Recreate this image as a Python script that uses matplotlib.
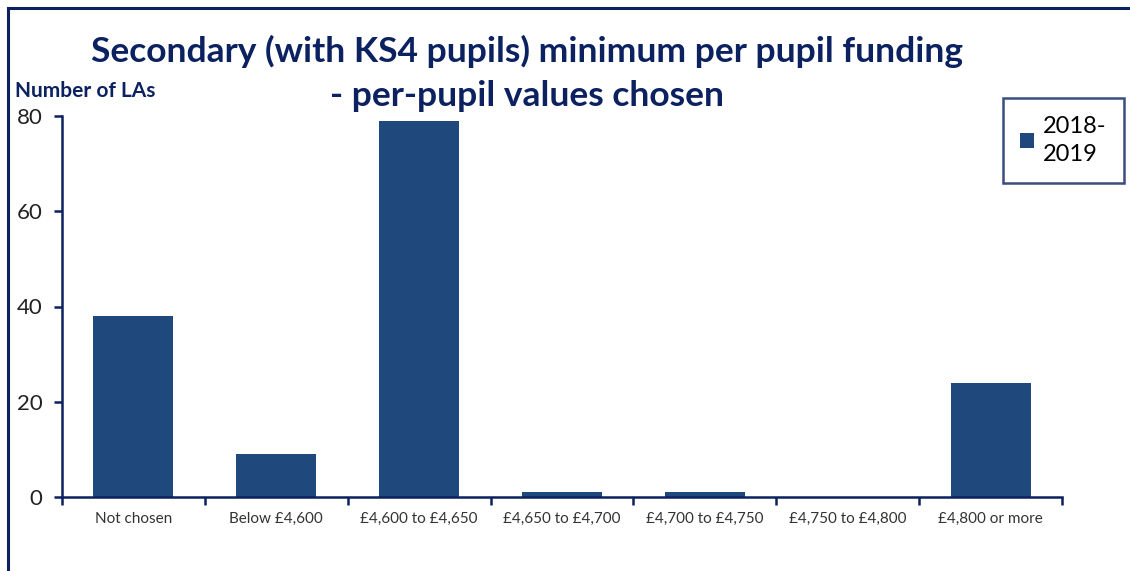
import matplotlib
matplotlib.use("Agg")
import matplotlib.pyplot as plt
from matplotlib.patches import Rectangle
import numpy as np

categories = ["Not chosen", "Below £4,600", "£4,600 to £4,650", "£4,650 to £4,700",
              "£4,700 to £4,750", "£4,750 to £4,800", "£4,800 or more"]
values_2018_2019 = [38, 9, 79, 1, 1, 0, 24]
yticks = [0, 20, 40, 60, 80]
series_label = "2018-\n2019"

navy = "#0b2160"
bar_color = "#1f497d"
font = "Lato"

fig = plt.figure(figsize=(11.3, 5.71), dpi=100)
ax = fig.add_axes([62/1130, 1-497/571, 1000/1130, 381/571])

x = np.arange(len(categories))
ax.bar(x, values_2018_2019, width=0.56, color=bar_color, label=series_label, zorder=2)

ax.set_xlim(-0.5, len(categories) - 0.5)
ax.set_ylim(0, 80)
ax.set_yticks(yticks)
ax.set_yticklabels([str(v) for v in yticks], fontsize=16, family=font, color="#222222")
ax.set_xticks(x)
ax.set_xticklabels(categories, fontsize=11, family=font, color="#333333")
ax.tick_params(axis="x", length=0, pad=11)
ax.set_xticks(np.arange(-0.5, len(categories)), minor=True)
ax.tick_params(axis="x", which="minor", length=6, width=1.8, color=navy, direction="out")
ax.tick_params(axis="y", length=6, width=1.8, color=navy, direction="out", pad=8)

for s in ["top", "right"]:
    ax.spines[s].set_visible(False)
for s in ["left", "bottom"]:
    ax.spines[s].set_color(navy)
    ax.spines[s].set_linewidth(1.8)

fig.text(527/1130, 1-51/571, "Secondary (with KS4 pupils) minimum per pupil funding",
         ha="center", va="center", fontsize=25.5, fontweight="bold", color=navy, family=font)
fig.text(527/1130, 1-96/571, "- per-pupil values chosen",
         ha="center", va="center", fontsize=25.5, fontweight="bold", color=navy, family=font)
fig.text(15/1130, 1-91/571, "Number of LAs", ha="left", va="center",
         fontsize=15, fontweight="bold", color=navy, family=font)

leg = ax.legend(loc="upper right", bbox_to_anchor=((1124-62)/1000, (497-98)/381),
                frameon=True, fancybox=False, prop={"family": font, "size": 17},
                handlelength=0.6, handleheight=0.6, borderpad=0.75, handletextpad=0.35,
                borderaxespad=0)
leg.get_texts()[0].set_linespacing(1.45)
leg.get_frame().set_edgecolor(navy)
leg.get_frame().set_linewidth(1.8)

fig.patches.append(Rectangle((8/1130, -0.1), 1.2, 1-8/571+0.1, transform=fig.transFigure,
                             fill=False, edgecolor=navy, linewidth=2.2, zorder=10))

fig.savefig("out.png", dpi=100)
